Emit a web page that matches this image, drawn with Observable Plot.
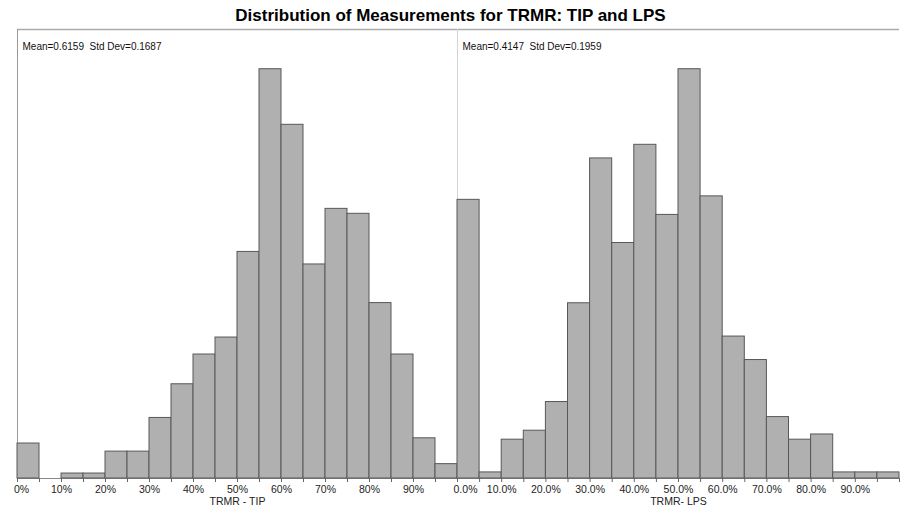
<!DOCTYPE html>
<html>
<head>
<meta charset="utf-8">
<script src="https://cdn.jsdelivr.net/npm/d3@7"></script>
<script src="https://cdn.jsdelivr.net/npm/@observablehq/plot@0.6"></script>
<style>
  html, body { margin: 0; padding: 0; background: #fff; }
  #wrap { position: relative; width: 901px; height: 509px; font-family: "Liberation Sans", Arial, Helvetica, sans-serif; }
  #title { position: absolute; left: 0; top: 6px; width: 901px; text-align: center; font-weight: bold; font-size: 17px; color: #000; line-height: 20px; }
  .panel { position: absolute; top: 28px; }
</style>
</head>
<body>
<div id="wrap">
  <div id="title">Distribution of Measurements for TRMR: TIP and LPS</div>
  <div id="left" class="panel" style="left:0px"></div>
  <div id="right" class="panel" style="left:456px"></div>
</div>
<script>
// Bin edges (5% bins)
const binStarts = [0, 0.05, 0.1, 0.15, 0.2, 0.25, 0.3, 0.35, 0.4, 0.45, 0.5, 0.55, 0.6, 0.65, 0.7, 0.75, 0.8, 0.85, 0.9, 0.95];
const binWidth = 0.05;
const binEdges = [0, 0.05, 0.1, 0.15, 0.2, 0.25, 0.3, 0.35, 0.4, 0.45, 0.5, 0.55, 0.6, 0.65, 0.7, 0.75, 0.8, 0.85, 0.9, 0.95, 1];

const tipValues = [1.34, 0, 0.19, 0.19, 1.03, 1.03, 2.32, 3.61, 4.75, 5.40, 8.68, 15.68, 13.55, 8.20, 10.33, 10.14, 6.72, 4.75, 1.54, 0.55];
const lpsValues = [9.62, 0.21, 1.34, 1.65, 2.64, 6.05, 11.05, 8.13, 11.52, 9.10, 14.13, 9.74, 4.90, 4.09, 2.12, 1.34, 1.52, 0.21, 0.21, 0.21];

// Tick labels
const labelPositions = [0, 0.1, 0.2, 0.3, 0.4, 0.5, 0.6, 0.7, 0.8, 0.9];
const tipTickLabels = ["0%", "10%", "20%", "30%", "40%", "50%", "60%", "70%", "80%", "90%"];
const lpsTickLabels = ["0.0%", "10.0%", "20.0%", "30.0%", "40.0%", "50.0%", "60.0%", "70.0%", "80.0%", "90.0%"];

const tipStats = "Mean=0.6159  Std Dev=0.1687";
const lpsStats = "Mean=0.4147  Std Dev=0.1959";
const tipAxisLabel = "TRMR - TIP";
const lpsAxisLabel = "TRMR- LPS";

const FONT = "'Liberation Sans', Arial, Helvetica, sans-serif";

function panel({values, labels, stats, axisLabel, borderColor, width, marginLeft, marginRight, firstDx}) {
  const data = binStarts.map((s, i) => ({x1: s, x2: s + binWidth, y: values[i]}));
  const ymax = d3.max(values) * 1.097;
  const labelData = labels.map((t, i) => ({t, x: labelPositions[i]}));
  return Plot.plot({
    width,
    height: 481,
    marginLeft,
    marginRight,
    marginTop: 1,
    marginBottom: 31,
    x: {domain: [0, 1], axis: null},
    y: {domain: [0, ymax], axis: null},
    style: {background: "transparent", overflow: "visible", fontFamily: FONT, fontSize: "10px", color: "#222"},
    marks: [
      Plot.ruleY([ymax], {stroke: "#aaa", strokeWidth: 1.5}),
      Plot.ruleX([0], {stroke: borderColor, strokeWidth: 1}),
      Plot.ruleY([0], {stroke: "#888"}),
      Plot.rectY(data, {x1: "x1", x2: "x2", y: "y", fill: "#b0b0b0", stroke: "#585858", strokeWidth: 1}),
      Plot.axisX({ticks: binEdges, tickSize: 4, tickFormat: () => "", stroke: "#666", strokeOpacity: 1}),
      Plot.text(labelData.slice(1), {x: "x", text: "t", frameAnchor: "bottom", dy: 14, fill: "#222", fontSize: 10.5}),
      Plot.text(labelData.slice(0, 1), {x: "x", text: "t", frameAnchor: "bottom", dy: 14, dx: firstDx, fill: "#222", fontSize: 10.5}),
      Plot.text([stats], {frameAnchor: "top-left", dx: 5, dy: 13, textAnchor: "start", fill: "#111", fontSize: 10}),
      Plot.text([axisLabel], {frameAnchor: "bottom", dy: 26, fill: "#222", fontSize: 10.5})
    ]
  });
}

document.getElementById("left").appendChild(panel({
  values: tipValues, labels: tipTickLabels, stats: tipStats, axisLabel: tipAxisLabel,
  borderColor: "#999", width: 458, marginLeft: 17, marginRight: 1, firstDx: 4
}));
document.getElementById("right").appendChild(panel({
  values: lpsValues, labels: lpsTickLabels, stats: lpsStats, axisLabel: lpsAxisLabel,
  borderColor: "#d4d4d4", width: 445, marginLeft: 1, marginRight: 2, firstDx: 8
}));
</script>
</body>
</html>
